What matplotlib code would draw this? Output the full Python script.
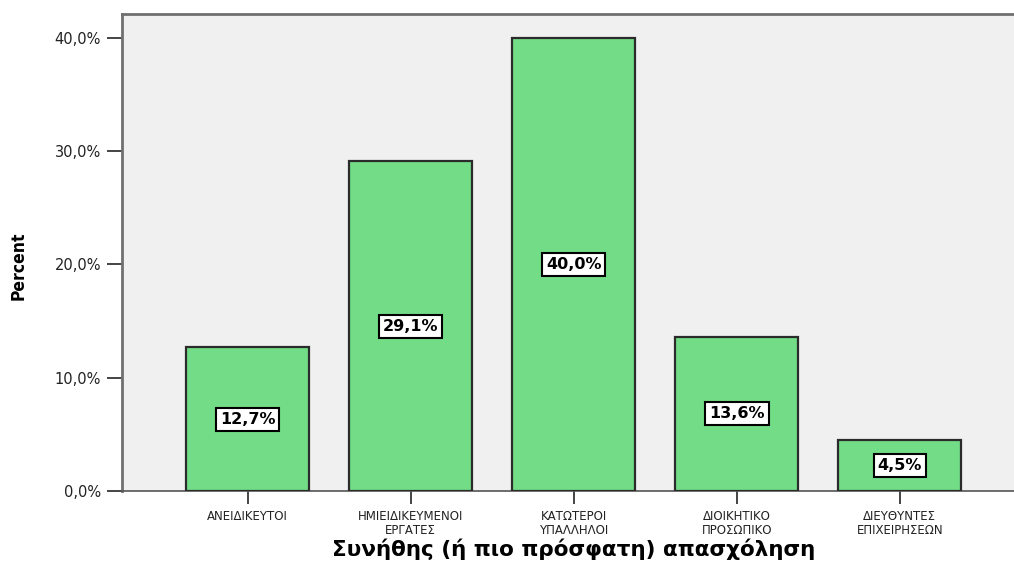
import matplotlib
matplotlib.use("Agg")
import matplotlib.pyplot as plt

categories = ["ΑΝΕΙΔΙΚΕΥΤΟΙ", "ΗΜΙΕΙΔΙΚΕΥΜΕΝΟΙ\nΕΡΓΑΤΕΣ", "ΚΑΤΩΤΕΡΟΙ\nΥΠΑΛΛΗΛΟΙ",
              "ΔΙΟΙΚΗΤΙΚΟ\nΠΡΟΣΩΠΙΚΟ", "ΔΙΕΥΘΥΝΤΕΣ\nΕΠΙΧΕΙΡΗΣΕΩΝ"]
percent = [12.7, 29.1, 40.0, 13.6, 4.5]
yticks = [0, 10, 20, 30, 40]
ytick_labels = ["0,0%", "10,0%", "20,0%", "30,0%", "40,0%"]
xlabel = "Συνήθης (ή πιο πρόσφατη) απασχόληση"
ylabel = "Percent"

fig = plt.figure(figsize=(10.14, 5.76), dpi=100)
ax = fig.add_axes([122/1014, 85/576, 1 - 122/1014, (491-14)/576])
ax.set_facecolor("#F0F0F0")

x = list(range(len(categories)))
ax.bar(x, percent, width=0.755, color="#72DC86", edgecolor="#2b2b2b", linewidth=1.6, zorder=3)

for xi, v in zip(x, percent):
    ax.text(xi, v / 2, f"{v:.1f}%".replace(".", ","), ha="center", va="center",
            fontsize=11.5, fontweight="bold", color="black", zorder=5,
            bbox=dict(boxstyle="square,pad=0.25", facecolor="white", edgecolor="black", linewidth=1.5))

ax.set_xlim(-0.77, 4.70)
ax.set_ylim(0, 42.1)
ax.set_yticks(yticks)
ax.set_yticklabels(ytick_labels, fontsize=10.5, color="#222222")
ax.set_xticks(x)
ax.set_xticklabels(categories, fontsize=8.5, color="#222222", linespacing=1.1)
ax.tick_params(axis="y", direction="out", length=11, width=1.4, color="#444444", pad=4)
ax.tick_params(axis="x", direction="out", length=9, width=1.4, color="#444444", pad=5)

for side in ["left", "top"]:
    ax.spines[side].set_color("#707070")
    ax.spines[side].set_linewidth(2)
ax.spines["bottom"].set_color("#555555")
ax.spines["bottom"].set_linewidth(1.2)
ax.spines["right"].set_visible(False)

fig.text(574/1014, 1 - 549/576, xlabel, ha="center", va="center", fontsize=15.5, fontweight="bold")
fig.text(19/1014, 1 - 266/576, ylabel, ha="center", va="center", rotation=90, fontsize=12.5,
         fontweight="bold", fontstretch="condensed")

fig.savefig("out.png", dpi=100)
